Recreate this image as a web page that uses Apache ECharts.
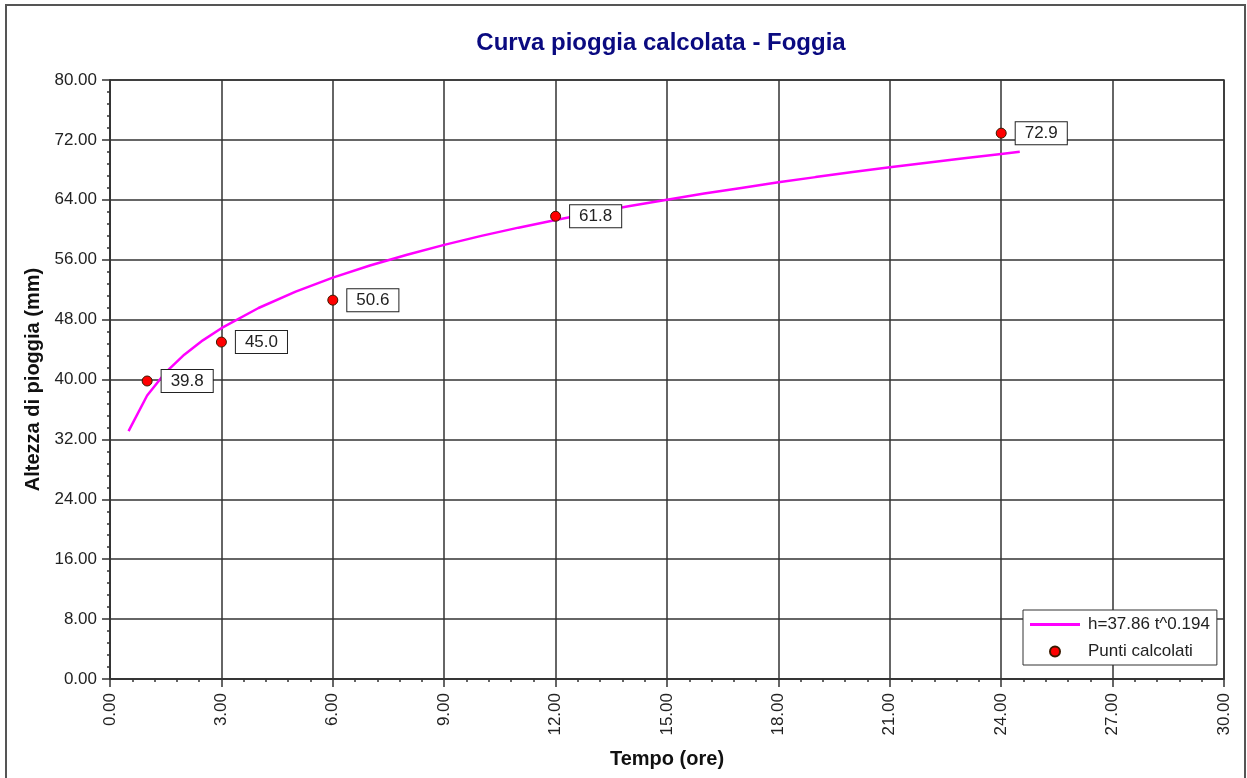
<!DOCTYPE html>
<html>
<head>
<meta charset="utf-8">
<script src="https://cdn.jsdelivr.net/npm/echarts@6/dist/echarts.min.js"></script>
<style>
html,body{margin:0;padding:0;background:#fff;}
#chart{width:1247px;height:778px;}
</style>
</head>
<body>
<div id="chart"></div>
<script>
// Fitted curve h = 37.86 t^0.194
const curveT = [0.5, 1, 1.5, 2, 2.5, 3, 4, 5, 6, 7, 8, 9, 10, 11, 12, 13, 14, 15, 16, 17, 18, 19, 20, 21, 22, 23, 24, 24.5];
const curveH = [33.10, 37.86, 40.96, 43.31, 45.23, 46.85, 49.55, 51.74, 53.60, 55.22, 56.67, 57.98, 59.18, 60.28, 61.31, 62.27, 63.17, 64.02, 64.83, 65.59, 66.33, 67.03, 67.70, 68.34, 68.96, 69.56, 70.13, 70.42];
// Computed points
const pointT = [1, 3, 6, 12, 24];
const pointH = [39.8, 45.0, 50.6, 61.8, 72.9];
const seriesNames = ['h=37.86 t^0.194', 'Punti calcolati'];

const FONT = 'Liberation Sans, Arial, sans-serif';
const chart = echarts.init(document.getElementById('chart'), null, {renderer: 'canvas'});
const option = {
  backgroundColor: '#fff',
  animation: false,
  title: {
    text: 'Curva pioggia calcolata - Foggia',
    left: 656, top: 26, textAlign: 'center',
    textStyle: {fontFamily: FONT, fontSize: 24, fontWeight: 'bold', color: '#0a0a80'}
  },
  graphic: [{
    type: 'rect', silent: true, z: -1,
    shape: {x: 6, y: 5, width: 1239, height: 800},
    style: {fill: 'none', stroke: '#555', lineWidth: 2}
  }],
  grid: {left: 110, right: 23, top: 80, bottom: 99, show: true, borderColor: '#333', borderWidth: 1.5, backgroundColor: 'transparent'},
  legend: {
    orient: 'vertical', left: 1023, top: 610,
    data: [
      {name: seriesNames[0], icon: 'path://M0,0L50,0L50,3L0,3Z'},
      {name: seriesNames[1], icon: 'circle'}
    ],
    itemWidth: 50, itemHeight: 10, itemGap: 8,
    padding: [5, 7, 4, 7],
    borderColor: '#333', borderWidth: 1, backgroundColor: '#fff',
    textStyle: {fontFamily: FONT, fontSize: 17, color: '#222', lineHeight: 19, padding: [0, 0, 0, 3]}
  },
  xAxis: {
    type: 'value', min: 0, max: 30, interval: 3,
    name: 'Tempo (ore)', nameLocation: 'middle', nameGap: 70,
    nameTextStyle: {fontFamily: FONT, fontSize: 20, fontWeight: 'bold', color: '#111'},
    axisLine: {show: true, lineStyle: {color: '#333', width: 1.5}},
    axisTick: {show: true, length: 8, lineStyle: {color: '#333', width: 1.5}},
    minorTick: {show: true, splitNumber: 5, length: 3, lineStyle: {color: '#333', width: 1.5}},
    splitLine: {show: true, lineStyle: {color: '#333', width: 1.5}},
    axisLabel: {rotate: 90, margin: 14, fontFamily: FONT, fontSize: 17, color: '#222',
      formatter: v => v.toFixed(2)}
  },
  yAxis: {
    type: 'value', min: 0, max: 80, interval: 8,
    name: 'Altezza di pioggia (mm)', nameLocation: 'middle', nameGap: 67,
    nameTextStyle: {fontFamily: FONT, fontSize: 20, fontWeight: 'bold', color: '#111'},
    axisLine: {show: true, lineStyle: {color: '#333', width: 1.5}},
    axisTick: {show: true, length: 8, lineStyle: {color: '#333', width: 1.5}},
    minorTick: {show: true, splitNumber: 5, length: 3, lineStyle: {color: '#333', width: 1.5}},
    splitLine: {show: true, lineStyle: {color: '#333', width: 1.5}},
    axisLabel: {margin: 13, fontFamily: FONT, fontSize: 17, color: '#222',
      formatter: v => v.toFixed(2)}
  },
  series: [
    {
      name: seriesNames[0], type: 'line', symbol: 'none', smooth: false,
      data: curveT.map((t, i) => [t, curveH[i]]),
      lineStyle: {color: '#ff00ff', width: 2.5},
      itemStyle: {color: '#ff00ff'},
      z: 3
    },
    {
      name: seriesNames[1], type: 'scatter', symbol: 'circle', symbolSize: 10,
      data: pointT.map((t, i) => [t, pointH[i]]),
      itemStyle: {color: '#ff0000', borderColor: '#3a1a00', borderWidth: 1, opacity: 1},
      label: {
        show: true, position: 'right', distance: 9,
        formatter: p => p.value[1].toFixed(1),
        fontFamily: FONT, fontSize: 17, color: '#222',
        backgroundColor: '#fff', borderColor: '#222', borderWidth: 1,
        padding: [3, 9, 2, 9]
      },
      z: 4
    }
  ]
};
chart.setOption(option);
</script>
</body>
</html>
